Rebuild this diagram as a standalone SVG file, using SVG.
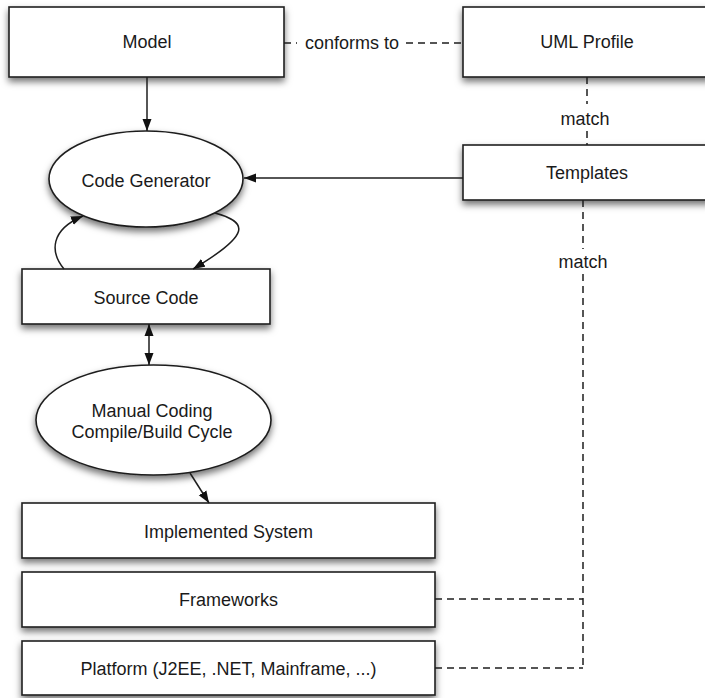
<svg xmlns="http://www.w3.org/2000/svg" width="705" height="698" viewBox="0 0 705 698">
  <style>
    .node { fill: #ffffff; stroke: #1e1e1e; stroke-width: 1.6; filter: url(#shadow); }
    .label { font-family: "Liberation Sans", Arial, sans-serif; font-size: 18px; fill: #1a1a1a; text-anchor: middle; }
    .edge { fill: none; stroke: #1e1e1e; stroke-width: 1.5; }
    .dashed { fill: none; stroke: #1e1e1e; stroke-width: 1.5; stroke-dasharray: 7 5; }
  </style>
  <defs>
    <filter id="shadow" x="-10%" y="-20%" width="120%" height="160%">
      <feDropShadow dx="0" dy="4" stdDeviation="3.5" flood-color="#000000" flood-opacity="0.55"/>
    </filter>
    <marker id="arrow" viewBox="0 0 12 10" refX="12" refY="5" markerWidth="12" markerHeight="10" markerUnits="userSpaceOnUse" orient="auto-start-reverse">
      <path d="M0,0.5 L12,5 L0,9.5 z" fill="#111111"/>
    </marker>
  </defs>

  <!-- nodes -->
  <g id="model">
    <rect class="node" x="9" y="7" width="275" height="70"/>
    <text class="label" x="147" y="48">Model</text>
  </g>
  <g id="uml-profile">
    <rect class="node" x="463" y="7" width="250" height="70"/>
    <text class="label" x="587" y="48">UML Profile</text>
  </g>
  <g id="templates">
    <rect class="node" x="463" y="145" width="248" height="55"/>
    <text class="label" x="587" y="179">Templates</text>
  </g>
  <g id="code-generator">
    <ellipse class="node" cx="146" cy="179" rx="97" ry="48"/>
    <text class="label" x="146" y="187">Code Generator</text>
  </g>
  <g id="source-code">
    <rect class="node" x="22" y="269" width="248" height="55"/>
    <text class="label" x="146" y="304">Source Code</text>
  </g>
  <g id="manual-coding">
    <ellipse class="node" cx="153.5" cy="420" rx="117.5" ry="55"/>
    <text class="label" x="152" y="417">Manual Coding</text>
    <text class="label" x="152" y="438">Compile/Build Cycle</text>
  </g>
  <g id="implemented-system">
    <rect class="node" x="22" y="503" width="413" height="55"/>
    <text class="label" x="228.5" y="538">Implemented System</text>
  </g>
  <g id="frameworks">
    <rect class="node" x="22" y="572" width="413" height="55"/>
    <text class="label" x="228.5" y="606">Frameworks</text>
  </g>
  <g id="platform">
    <rect class="node" x="22" y="641" width="413" height="54"/>
    <text class="label" x="228.5" y="675">Platform (J2EE, .NET, Mainframe, ...)</text>
  </g>

  <!-- connectors -->
  <g id="connectors">
    <!-- Model conforms to UML Profile -->
    <path class="dashed" d="M284,43 H297"/>
    <path class="dashed" d="M406,43 H463"/>
    <text class="label" x="352" y="49">conforms to</text>

    <!-- UML Profile to Templates -->
    <path class="dashed" d="M587,77 V104"/>
    <path class="dashed" d="M587,131 V145"/>
    <text class="label" x="585" y="125">match</text>

    <!-- Templates to Frameworks / Platform -->
    <path class="dashed" d="M583,200 V249"/>
    <path class="dashed" d="M583,274 V668"/>
    <text class="label" x="583" y="268">match</text>
    <path class="dashed" d="M435,599 H583"/>
    <path class="dashed" d="M435,668 H583"/>

    <!-- Model to Code Generator -->
    <path class="edge" d="M147,77 V131" marker-end="url(#arrow)"/>
    <!-- Templates to Code Generator -->
    <path class="edge" d="M463,178 H244" marker-end="url(#arrow)"/>
    <!-- Code Generator / Source Code loop -->
    <path class="edge" d="M64,269 C50,252 50,230 83,216" marker-end="url(#arrow)"/>
    <path class="edge" d="M215,213 C248,222 252,234 193,269" marker-end="url(#arrow)"/>
    <!-- Source Code to Manual Coding -->
    <path class="edge" d="M149,324 V365" marker-start="url(#arrow)" marker-end="url(#arrow)"/>
    <!-- Manual Coding to Implemented System -->
    <path class="edge" d="M190,473 L209,503" marker-end="url(#arrow)"/>
  </g>
</svg>
